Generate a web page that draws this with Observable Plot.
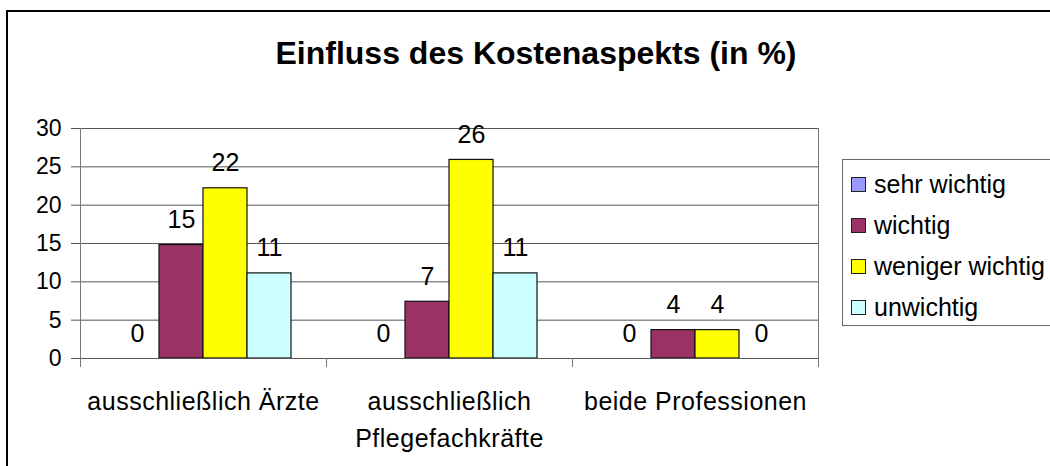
<!DOCTYPE html>
<html>
<head>
<meta charset="utf-8">
<script src="https://cdn.jsdelivr.net/npm/d3@7"></script>
<script src="https://cdn.jsdelivr.net/npm/@observablehq/plot@0.6"></script>
<style>
  html, body { margin: 0; padding: 0; background: #fff; }
  #wrap { position: relative; width: 1050px; height: 466px; overflow: hidden; font-family: "Liberation Sans", Arial, sans-serif; color: #000; }
  #border { position: absolute; left: 6px; top: 10px; width: 1060px; height: 600px; border: 2px solid #000; box-sizing: border-box; }
  #title { position: absolute; left: 6px; width: 1060px; top: 37px; text-align: center; font-weight: bold; font-size: 32px; line-height: 32px; }
  #chart { position: absolute; left: 0; top: 0; }
  #legend { position: absolute; left: 842px; top: 159px; width: 240px; height: 167px; border: 1px solid #666; box-sizing: border-box; background: #fff; }
  .item { position: absolute; left: 8px; height: 30px; display: flex; align-items: center; font-size: 25px; white-space: nowrap; }
  .sw { width: 13px; height: 13px; border: 1px solid #222; margin-right: 8px; }
</style>
</head>
<body>
<div id="wrap">
  <div id="border"></div>
  <div id="title"></div>
  <div id="chart"></div>
  <div id="legend"></div>
</div>
<script>
const titleText = "Einfluss des Kostenaspekts (in %)";
const categories = ["ausschließlich Ärzte", "ausschließlich Pflegefachkräfte", "beide Professionen"];
const categoryLabels = ["ausschließlich Ärzte", "ausschließlich\nPflegefachkräfte", "beide Professionen"];
const series = ["sehr wichtig", "wichtig", "weniger wichtig", "unwichtig"];
const colors = ["#9999FF", "#993366", "#FFFF00", "#CCFFFF"];
const valuesAerzte = [0, 14.8, 22.2, 11.1];
const valuesPflege = [0, 7.4, 25.9, 11.1];
const valuesBeide = [0, 3.7, 3.7, 0];
const yTicks = [0, 5, 10, 15, 20, 25, 30];

const seriesValues = [valuesAerzte, valuesPflege, valuesBeide];
const data = [];
categories.forEach((c, i) => series.forEach((s, j) => data.push({category: c, series: s, value: seriesValues[i][j]})));

document.getElementById("title").textContent = titleText;

const plot = Plot.plot({
  width: 1050, height: 466,
  marginLeft: 79, marginRight: 232, marginTop: 128, marginBottom: 108,
  style: {fontFamily: "'Liberation Sans', Arial, sans-serif", background: "transparent", color: "#000", overflow: "visible"},
  fx: {domain: categories, padding: 0, label: null},
  x: {domain: series, paddingInner: 0, paddingOuter: 0.78, axis: null},
  y: {domain: [0, 30], label: null},
  color: {domain: series, range: colors},
  marks: [
    Plot.gridY(yTicks.filter(d => d > 0), {stroke: "#555", strokeOpacity: 1}),
    Plot.barY(data, {fx: "category", x: "series", y: "value", fill: "series", stroke: "#111", strokeWidth: 1.2}),
    Plot.ruleY([0], {stroke: "#555"}),
    Plot.frame({anchor: "left", facet: "super", stroke: "#777", insetBottom: -8}),
    Plot.frame({anchor: "right", facet: "super", stroke: "#777", insetBottom: -8}),
    Plot.frame({anchor: "left", stroke: "#777", insetTop: 230, insetBottom: -8}),
    Plot.axisY({ticks: yTicks, tickSize: 9, tickPadding: 10, fontSize: 23, stroke: "#555", fill: "#000", label: null}),
    Plot.axisFx({anchor: "bottom", tickSize: 0, tickPadding: 25, fontSize: 25, lineHeight: 1.48, fill: "#000", label: null,
      tickFormat: d => categoryLabels[categories.indexOf(d)]}),
    Plot.text(data, {fx: "category", x: "series", y: "value", text: d => String(Math.round(d.value)), dy: -25, fontSize: 25, lineAnchor: "middle", fill: "#000"})
  ]
});
document.getElementById("chart").appendChild(plot);
d3.select(plot).selectAll('g[aria-label="fx-axis tick label"] text').attr("letter-spacing", "0.5px");

const legend = document.getElementById("legend");
const rowCenters = [24, 65, 106, 147];
series.forEach((s, i) => {
  const item = document.createElement("div");
  item.className = "item";
  item.style.top = (rowCenters[i] - 15) + "px";
  const sw = document.createElement("div");
  sw.className = "sw";
  sw.style.background = colors[i];
  item.appendChild(sw);
  const t = document.createElement("span");
  t.textContent = s;
  item.appendChild(t);
  legend.appendChild(item);
});
</script>
</body>
</html>
